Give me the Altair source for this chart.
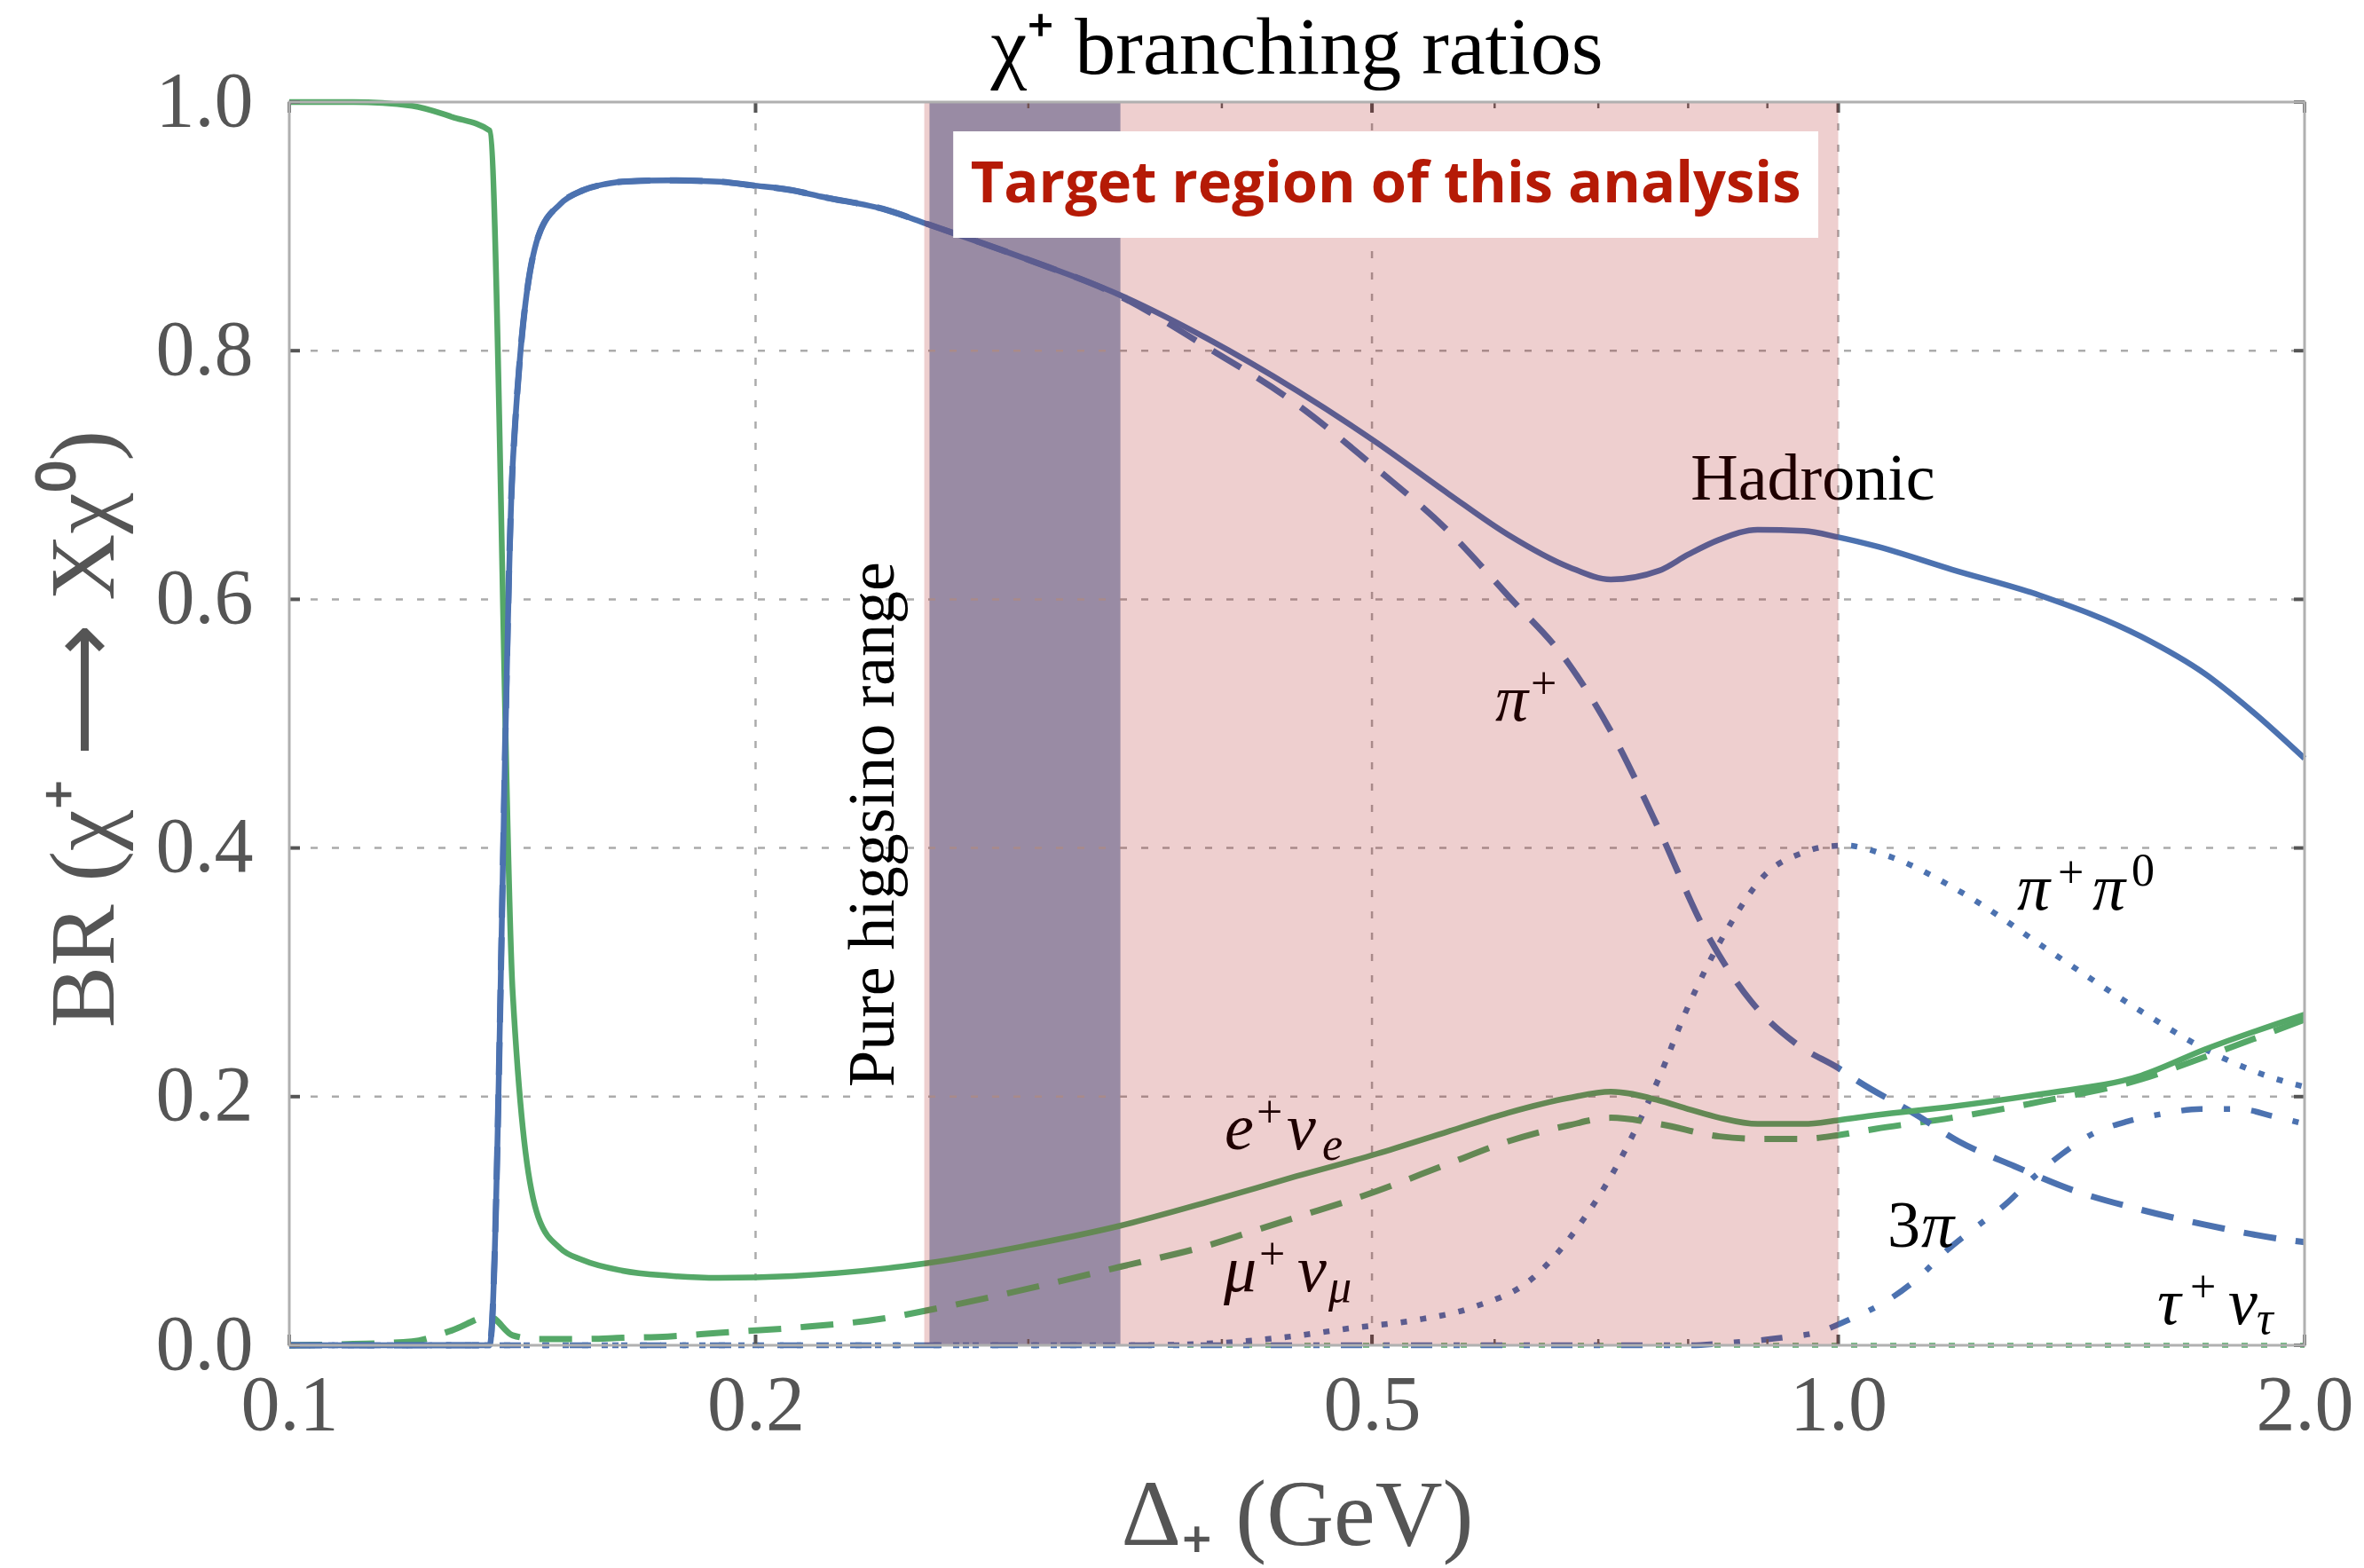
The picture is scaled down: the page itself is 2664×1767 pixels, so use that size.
import altair as alt
import pandas as pd

# ---------------------------------------------------------------------------
# Chargino branching ratios versus mass splitting Delta_+ (GeV)
# ---------------------------------------------------------------------------
W, H = 2271, 1401
BLUE = "#4C72B0"
GREEN = "#55A868"
SERIF = "Liberation Serif"
GRAY_TXT = "#555555"

# Hadronic (sum of pion channels)
had_x = [0.1, 0.1347, 0.1394, 0.1448, 0.1496, 0.1547, 0.1599, 0.1641, 0.1755, 0.1894,
         0.199, 0.2113, 0.2204, 0.2433, 0.258, 0.2987, 0.3435, 0.391, 0.447, 0.5036,
         0.56, 0.612, 0.67, 0.713, 0.766, 0.8, 0.838, 0.887, 0.95, 1.0,
         1.056, 1.184, 1.351, 1.569, 1.725, 1.85, 2.0]
had_y = [0.0, 0.0, 0.709, 0.892, 0.918, 0.929, 0.934, 0.936, 0.937, 0.936,
         0.933, 0.929, 0.924, 0.913, 0.902, 0.874, 0.845, 0.810, 0.768, 0.726,
         0.685, 0.652, 0.626, 0.616, 0.623, 0.636, 0.648, 0.656, 0.655, 0.650,
         0.643, 0.624, 0.603, 0.570, 0.540, 0.510, 0.472]

# pi+ channel
pi_x = [0.1, 0.1347, 0.1394, 0.1448, 0.1496, 0.1547, 0.1599, 0.1641, 0.1755, 0.1894,
        0.199, 0.2113, 0.2204, 0.2433, 0.258, 0.2987, 0.3435, 0.391, 0.447, 0.5036,
        0.56, 0.612, 0.67, 0.716, 0.766, 0.8185, 0.878, 0.943, 1.0, 1.031,
        1.121, 1.196, 1.2996, 1.423, 1.557, 1.725, 1.918, 2.0]
pi_y = [0.0, 0.0, 0.709, 0.892, 0.918, 0.929, 0.934, 0.936, 0.937, 0.936,
        0.933, 0.929, 0.924, 0.913, 0.902, 0.874, 0.844, 0.803, 0.757, 0.705,
        0.655, 0.603, 0.548, 0.490, 0.415, 0.336, 0.277, 0.241, 0.223, 0.212,
        0.186, 0.164, 0.144, 0.124, 0.110, 0.097, 0.086, 0.083]

# pi+ pi0 channel
pipi_x = [0.1, 0.35, 0.4, 0.44, 0.485, 0.532, 0.581, 0.635, 0.679, 0.72,
          0.766, 0.797, 0.851, 0.896, 0.948, 0.98, 1.011, 1.08, 1.206, 1.377,
          1.567, 1.758, 1.97, 2.0]
pipi_y = [0.0, 0.0, 0.002, 0.0066, 0.0138, 0.020, 0.0306, 0.054, 0.095, 0.145,
          0.215, 0.268, 0.338, 0.378, 0.396, 0.401, 0.402, 0.393, 0.363, 0.315,
          0.269, 0.233, 0.21, 0.208]

# 3 pi channel
tri_x = [0.1, 0.8, 0.85, 0.919, 0.973, 1.018, 1.079, 1.128, 1.172, 1.227,
         1.284, 1.334, 1.395, 1.459, 1.536, 1.617, 1.714, 1.816, 1.912, 2.0]
tri_y = [0.0, 0.0, 0.002, 0.006, 0.011, 0.021, 0.037, 0.055, 0.075, 0.095,
         0.114, 0.134, 0.154, 0.170, 0.180, 0.186, 0.190, 0.190, 0.184, 0.178]

# e+ nu_e
e_x = [0.1, 0.11, 0.12, 0.1274, 0.1347, 0.1394, 0.1448, 0.1496, 0.1547, 0.1641,
       0.1755, 0.1894, 0.2113, 0.2433, 0.258, 0.2987, 0.3435, 0.391, 0.447, 0.5036,
       0.56, 0.612, 0.67, 0.713, 0.766, 0.8, 0.838, 0.887, 0.95, 1.0,
       1.056, 1.184, 1.351, 1.569, 1.725, 2.0]
e_y = [1.0, 1.0, 0.997, 0.988, 0.977, 0.283, 0.103, 0.078, 0.0685, 0.060,
       0.056, 0.0542, 0.0557, 0.062, 0.066, 0.080, 0.096, 0.115, 0.136, 0.154,
       0.172, 0.187, 0.199, 0.204, 0.197, 0.190, 0.183, 0.178, 0.178, 0.181,
       0.185, 0.192, 0.202, 0.217, 0.238, 0.266]

# mu+ nu_mu
mu_x = [0.1, 0.11, 0.12, 0.1274, 0.1347, 0.1394, 0.1448, 0.1547, 0.1641, 0.1755,
        0.1894, 0.2113, 0.2433, 0.258, 0.2987, 0.3435, 0.391, 0.417, 0.447, 0.5036,
        0.56, 0.612, 0.67, 0.713, 0.766, 0.838, 0.887, 0.95, 1.0, 1.056,
        1.184, 1.351, 1.569, 1.725, 2.0]
mu_y = [0.0, 0.001, 0.003, 0.012, 0.023, 0.008, 0.005, 0.005, 0.006, 0.007,
        0.010, 0.014, 0.022, 0.028, 0.045, 0.063, 0.080, 0.091, 0.103, 0.124,
        0.146, 0.164, 0.177, 0.183, 0.178, 0.168, 0.166, 0.166, 0.169, 0.174,
        0.183, 0.196, 0.214, 0.232, 0.262]

# tau+ nu_tau
tau_x = [0.1, 2.0]
tau_y = [0.0, 0.0]

# shaded ranges (GeV)
target_range = [0.257, 1.0]
higgsino_range = [0.259, 0.344]

# axis ticks
x_major = [0.1, 0.2, 0.5, 1.0, 2.0]
x_minor = [0.3, 0.4, 0.6, 0.7, 0.8, 0.9]
y_major = [0.0, 0.2, 0.4, 0.6, 0.8, 1.0]
x_grid = [0.2, 0.5, 1.0]
y_grid = [0.2, 0.4, 0.6, 0.8]

# curve labels: anchor (left end, baseline) and pieces (text, dx, dy, size, italic)
math_labels = [
    ((0.6006, 0.5025), [("π", 0, 0, 74, True), ("+", 40, -25, 52, False)]),
    ((1.3045, 0.3505), [("π", 0, 0, 74, True), ("+", 46, -25, 52, False),
                        ("π", 85, 0, 74, True), ("0", 129, -27, 52, False)]),
    ((0.4016, 0.1577), [("e", 0, 0, 74, True), ("+", 36, -25, 52, False),
                        ("ν", 70, 0, 74, True), ("e", 110, 12, 52, True)]),
    ((0.4011, 0.0435), [("μ", 0, 0, 74, True), ("+", 40, -25, 52, False),
                        ("ν", 83, 0, 74, True), ("μ", 118, 12, 52, True)]),
    ((1.6066, 0.0171), [("τ", 0, 0, 74, True), ("+", 37, -25, 52, False),
                        ("ν", 80, 0, 74, True), ("τ", 112, 11, 52, True)]),
    ((1.0758, 0.0792), [("3", 0, 0, 74, False), ("π", 38, 0, 74, True)]),
]
hadronic_pos = [0.963, 0.680]
higgsino_label_pos = [0.2455, 0.419]
box_x = [0.2683, 0.9707]
box_y = [0.8908, 0.9764]
chart_title = "χ⁺ branching ratios"

# ---------------------------------------------------------------------------
XS = alt.Scale(type="log", domain=[0.1, 2.0], nice=False)
YS = alt.Scale(domain=[0.0, 1.0], nice=False, zero=False)

x_axis = alt.Axis(values=x_major, format=".1f", domain=False, ticks=False, grid=False,
                  labelFont=SERIF, labelFontSize=88, labelColor=GRAY_TXT,
                  labelPadding=24, labelFlush=False, labelOverlap=False, labelBound=False,
                  title="Δ₊ (GeV)", titleFont=SERIF, titleFontSize=105,
                  titleFontWeight="normal", titleColor=GRAY_TXT,
                  titleX=W / 2, titleY=224, titleAlign="center",
                  titleBaseline="alphabetic")
y_axis = alt.Axis(values=y_major, format=".1f", domain=False, ticks=False, grid=False,
                  labelFont=SERIF, labelFontSize=88, labelColor=GRAY_TXT,
                  labelPadding=41, labelOverlap=False,
                  title="BR (χ⁺ ⟶ Xχ⁰)", titleFont=SERIF, titleFontSize=104,
                  titleFontWeight="normal", titleColor=GRAY_TXT,
                  titleX=-199, titleY=706, titleAngle=270, titleAlign="center",
                  titleBaseline="alphabetic")


def X(field="x"):
    return alt.X(f"{field}:Q", scale=XS, axis=x_axis)


def Y(field="y"):
    return alt.Y(f"{field}:Q", scale=YS, axis=y_axis)


layers = []

# light band for the pure-higgsino range (beneath everything)
band_df = pd.DataFrame({"x": [higgsino_range[0]], "x2": [higgsino_range[1]],
                        "y": [0.0], "y2": [1.0]})
layers.append(alt.Chart(band_df).mark_rect(color="#97ACCA").encode(
    x=X(), x2="x2", y=Y(), y2="y2"))

# dashed grid
grid_style = dict(color="#ABABAB", strokeWidth=2.5, strokeDash=[8, 16])
layers.append(alt.Chart(pd.DataFrame({"x": x_grid})).mark_rule(**grid_style).encode(
    x=X(), y=alt.value(0), y2=alt.value(H)))
layers.append(alt.Chart(pd.DataFrame({"y": y_grid})).mark_rule(**grid_style).encode(
    y=Y(), x=alt.value(0), x2=alt.value(W)))

# channel curves
series = [
    (tau_x, tau_y, GREEN, [7, 15], 5.5),
    (tri_x, tri_y, BLUE, [24, 24, 7, 24], 6.5),
    (pipi_x, pipi_y, BLUE, [7, 15], 6.5),
    (mu_x, mu_y, GREEN, [37, 22], 7),
    (pi_x, pi_y, BLUE, [37, 22], 7),
    (e_x, e_y, GREEN, None, 6.5),
    (had_x, had_y, BLUE, None, 6.5),
]
for xs, ys, col, dash, sw in series:
    kw = dict(color=col, strokeWidth=sw, interpolate="monotone", strokeCap="butt")
    if dash:
        kw["strokeDash"] = dash
    layers.append(alt.Chart(pd.DataFrame({"x": xs, "y": ys})).mark_line(**kw).encode(
        x=X(), y=Y()))

# curve labels
layers.append(alt.Chart(pd.DataFrame({"x": [hadronic_pos[0]], "y": [hadronic_pos[1]],
                                      "t": ["Hadronic"]}))
              .mark_text(font=SERIF, fontSize=74, color="black", align="center",
                         baseline="alphabetic")
              .encode(x=X(), y=Y(), text="t:N"))
for (ax, ay), pieces in math_labels:
    for txt, dx, dy, size, italic in pieces:
        layers.append(alt.Chart(pd.DataFrame({"x": [ax], "y": [ay], "t": [txt]}))
                      .mark_text(font=SERIF, fontSize=size,
                                 fontStyle="italic" if italic else "normal",
                                 color="black", align="left", baseline="alphabetic",
                                 dx=dx, dy=dy)
                      .encode(x=X(), y=Y(), text="t:N"))

# inward ticks on all four sides
major_tick = dict(color="#555555", strokeWidth=4)
minor_tick = dict(color="#666666", strokeWidth=2.5)
xmaj = pd.DataFrame({"x": x_major})
xmin = pd.DataFrame({"x": x_minor})
ymaj = pd.DataFrame({"y": y_major})
layers += [
    alt.Chart(xmaj).mark_rule(**major_tick).encode(x=X(), y=alt.value(H), y2=alt.value(H - 12)),
    alt.Chart(xmaj).mark_rule(**major_tick).encode(x=X(), y=alt.value(0), y2=alt.value(12)),
    alt.Chart(xmin).mark_rule(**minor_tick).encode(x=X(), y=alt.value(H), y2=alt.value(H - 7)),
    alt.Chart(xmin).mark_rule(**minor_tick).encode(x=X(), y=alt.value(0), y2=alt.value(7)),
    alt.Chart(ymaj).mark_rule(**major_tick).encode(y=Y(), x=alt.value(0), x2=alt.value(12)),
    alt.Chart(ymaj).mark_rule(**major_tick).encode(y=Y(), x=alt.value(W), x2=alt.value(W - 12)),
]

# translucent overlay marking the target region
target_df = pd.DataFrame({"x": [target_range[0]], "x2": [target_range[1]],
                          "y": [0.0], "y2": [1.0]})
layers.append(alt.Chart(target_df).mark_rect(color="#A70000", opacity=0.19).encode(
    x=X(), x2="x2", y=Y(), y2="y2"))

# white label box with the region caption
box_df = pd.DataFrame({"x": [box_x[0]], "x2": [box_x[1]], "y": [box_y[0]], "y2": [box_y[1]]})
layers.append(alt.Chart(box_df).mark_rect(color="white").encode(
    x=X(), x2="x2", y=Y(), y2="y2"))
cap_df = pd.DataFrame({"x": [(box_x[0] * box_x[1]) ** 0.5],
                       "y": [(box_y[0] + box_y[1]) / 2],
                       "t": ["Target region of this analysis"]})
layers.append(alt.Chart(cap_df).mark_text(font="Open Sans", fontSize=65, fontWeight="bold",
                                          color="#B51A06", align="center", baseline="middle")
              .encode(x=X(), y=Y(), text="t:N"))

# vertical caption next to the higgsino band
hig_df = pd.DataFrame({"x": [higgsino_label_pos[0]], "y": [higgsino_label_pos[1]],
                       "t": ["Pure higgsino range"]})
layers.append(alt.Chart(hig_df).mark_text(font=SERIF, fontSize=74, color="black", angle=270,
                                          align="center", baseline="alphabetic")
              .encode(x=X(), y=Y(), text="t:N"))

# plot frame
layers.append(alt.Chart(pd.DataFrame({"k": [0]})).mark_rect(
    filled=False, stroke="#B0B0B0", strokeWidth=3).encode(
    x=alt.value(0), x2=alt.value(W), y=alt.value(0), y2=alt.value(H)))

# heading above the plot frame
layers.append(alt.Chart(pd.DataFrame({"t": [chart_title]})).mark_text(
    font=SERIF, fontSize=92, color="black", align="center", baseline="alphabetic").encode(
    x=alt.value(W / 2), y=alt.value(-32), text="t:N"))

chart = alt.layer(*layers).properties(
    width=W, height=H,
    autosize=alt.AutoSizeParams(type="none"),
    padding={"left": 326, "top": 115, "right": 67, "bottom": 251},
).configure_view(stroke=None).configure(background="white")

chart.save("out.html", embed_options={"renderer": "svg", "actions": False})
